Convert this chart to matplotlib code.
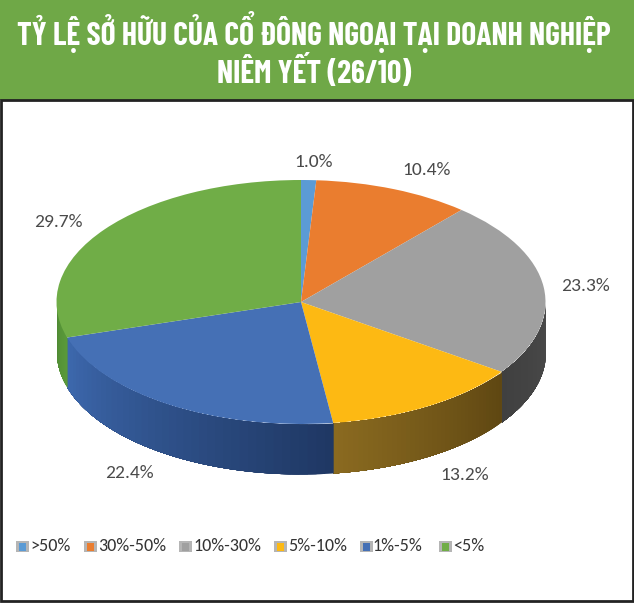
import numpy as np
import matplotlib
matplotlib.use("Agg")
import matplotlib.pyplot as plt
from matplotlib.patches import Rectangle
from matplotlib.colors import to_rgb

W, H = 634, 603

categories = [">50%", "30%-50%", "10%-30%", "5%-10%", "1%-5%", "<5%"]
values = [1.0, 10.4, 23.3, 13.2, 22.4, 29.7]
value_labels = ["1.0%", "10.4%", "23.3%", "13.2%", "22.4%", "29.7%"]
colors = ["#5b9bd5", "#ea7d2f", "#a0a0a0", "#fdb913", "#4570b5", "#70ad47"]
title_lines = ["TỶ LỆ SỞ HỮU CỦA CỔ ĐÔNG NGOẠI TẠI DOANH NGHIỆP", "NIÊM YẾT (26/10)"]

# label and legend placement, in picture pixels
label_pos = [(314, 162), (427, 170), (585, 286), (465, 475), (129, 473), (58, 222)]
legend_icon_x = [16, 84, 179, 274, 360, 439]
legend_text_x = [30, 98, 193, 288, 372, 453]
legend_y = 546

label_font = ["Carlito", "Lato"]
title_font = ["Barlow Condensed", "Liberation Sans"]

fig = plt.figure(figsize=(W / 100, H / 100), dpi=100, facecolor="white")

bg = fig.add_axes([0, 0, 1, 1])
bg.set_xlim(0, W)
bg.set_ylim(H, 0)
bg.axis("off")

bg.add_patch(Rectangle((0, 0), W, 100, color="#6fa847", lw=0))
bg.add_patch(Rectangle((1, 100), W - 2, 501, fc="white", ec="#222222", lw=2))
for y, line in zip([32, 72], title_lines):
    bg.text(W / 2 - 3, y, line, ha="center", va="center", color="white", fontsize=22.7,
            fontweight="bold", family=title_font)

# pie axes: the unit circle is squashed into the tilted ellipse
cx, cy, rx, ry, depth = 301, 302, 244.5, 122, 50
ax = fig.add_axes([(cx - rx) / W, 1 - (cy + ry) / H, 2 * rx / W, 2 * ry / H])
ax.set_zorder(2)
wedges, _ = ax.pie(values, colors=colors, startangle=90, counterclock=False, radius=1,
                   wedgeprops={"linewidth": 0})
ax.set_aspect("auto")
ax.set_xlim(-1, 1)
ax.set_ylim(-1, 1)
ax.patch.set_visible(False)
for sp in ax.spines.values():
    sp.set_visible(False)

# side wall, only the front half shows. each slice gets lighter to its left
wall = {2: ("#4a4a4a", "#404040"), 3: ("#5f4712", "#8a6a20"), 4: ("#1f3864", "#3d68ad"), 5: ("#5a9a3a", "#4f8a33")}
edges = np.cumsum([0] + values) / sum(values) * 2 * np.pi
d = depth / ry
for i, (c_right, c_left) in wall.items():
    a0 = max(edges[i], np.pi / 2)
    a1 = min(edges[i + 1], 3 * np.pi / 2)
    steps = np.linspace(a0, a1, 41)
    c0, c1 = np.array(to_rgb(c_right)), np.array(to_rgb(c_left))
    # each strip runs on to the slice end, so no seams show between strips
    for k in range(40):
        t = np.linspace(steps[k], a1, 60)
        col = c0 + (c1 - c0) * k / 39
        ax.fill_between(np.sin(t), np.cos(t), np.cos(t) - d, color=col, lw=0, clip_on=False, zorder=0)

for (x, y), txt in zip(label_pos, value_labels):
    bg.text(x, y, txt, ha="center", va="center", color="#4a4a4a", fontsize=14, family=label_font, zorder=5)

for c, ix, tx, name in zip(colors, legend_icon_x, legend_text_x, categories):
    bg.add_patch(Rectangle((ix, legend_y - 5), 13, 11, color="#b5b5b5", lw=0))
    bg.add_patch(Rectangle((ix + 3, legend_y - 3), 7, 8, color=c, lw=0))
    bg.text(tx, legend_y, name, ha="left", va="center", color="#333333", fontsize=13, family=label_font)

fig.savefig("out.png", dpi=100)
